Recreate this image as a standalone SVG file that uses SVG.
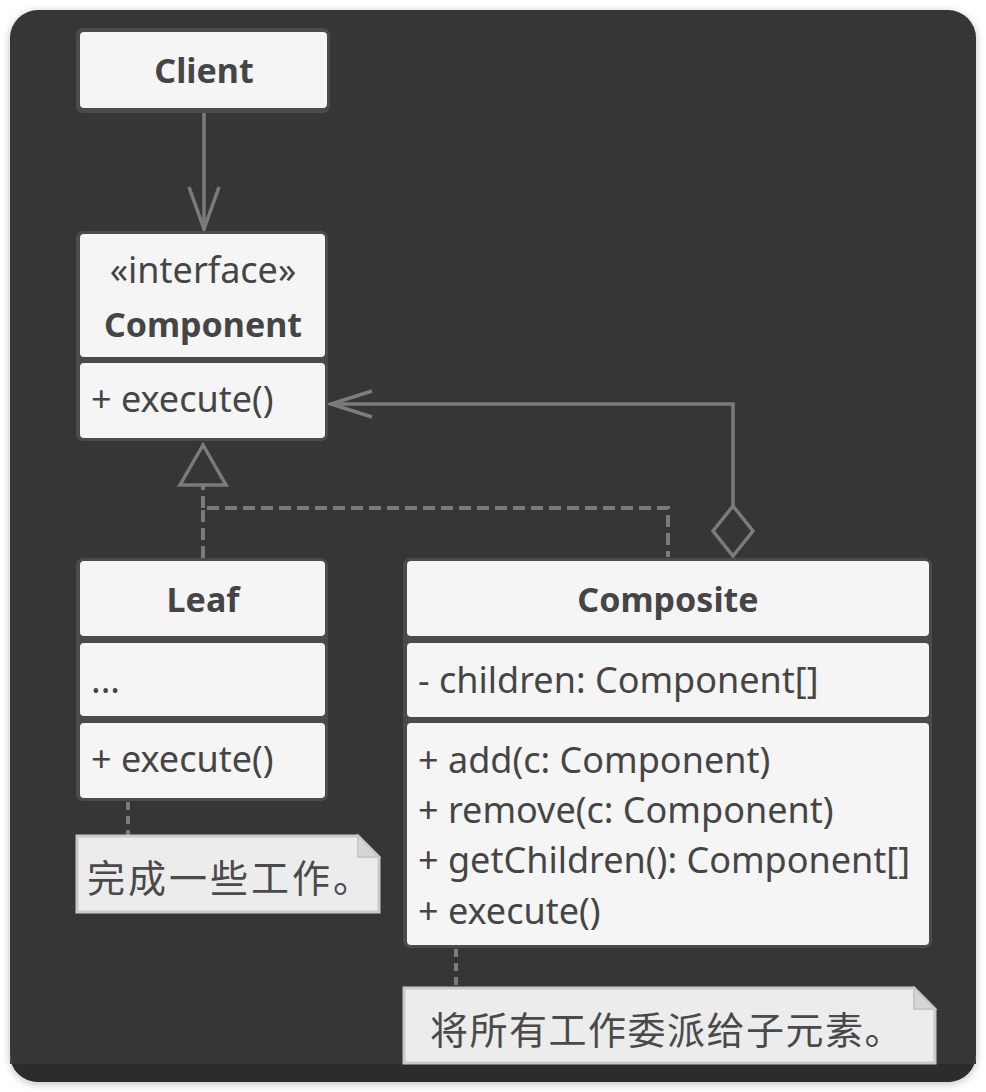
<svg xmlns="http://www.w3.org/2000/svg" width="986" height="1092" viewBox="0 0 986 1092">
<defs>
<style>
.frame{fill:#4b4b4b}
.cell{fill:#f5f5f5}
.t{font-family:"Noto Sans","Open Sans",sans-serif;font-size:36px;fill:#454545}
.b{font-weight:bold;font-size:34px}
.cjk{font-family:"Noto Sans CJK SC","Noto Sans",sans-serif;font-size:38px;fill:#4a4a4a;letter-spacing:3px}
.ln{fill:none;stroke:#7b7b7b;stroke-width:3.5}
.dash{fill:none;stroke:#7b7b7b;stroke-width:4;stroke-dasharray:12 6}
.dot{fill:none;stroke:#7b7b7b;stroke-width:4;stroke-dasharray:8 6}
.note{fill:#ececec;stroke:#c9c9c9;stroke-width:3}
.fold{fill:#d6d6d6;stroke:#c9c9c9;stroke-width:2}
</style>
<filter id="sh" x="-5%" y="-5%" width="110%" height="110%">
<feGaussianBlur stdDeviation="4"/>
</filter>
</defs>
<rect width="986" height="1092" fill="#ffffff"/>
<rect x="10" y="12" width="966" height="1072" rx="28" fill="#000" opacity="0.25" filter="url(#sh)"/>
<rect x="10" y="10" width="966" height="1072" rx="28" fill="#363636"/>
<path d="M10 1064 H976 V1054 a28 28 0 0 1 -28 28 H38 a28 28 0 0 1 -28 -28 Z" fill="#2c2c2c"/>

<g id="connectors">
<path class="ln" d="M204 113 V228"/>
<path class="ln" d="M189 187 L204 229 L219 187"/>
<path class="ln" d="M733 506 V404 H332"/>
<path class="ln" d="M372 391 L331 404 L372 417"/>
<polygon points="733,506 753,531 733,556 713,531" fill="#363636" stroke="#7b7b7b" stroke-width="3.5"/>
<path class="dash" d="M203 558 V508 H668 V557"/>
<path class="dash" d="M203 508 V486"/>
<polygon points="203,445 180,485 226,485" fill="#363636" stroke="#7b7b7b" stroke-width="3.5"/>
<path class="dot" d="M128 802 V836"/>
<path class="dot" d="M456 949 V988"/>
</g>

<g id="client">
<rect class="frame" x="76" y="28" width="254" height="85" rx="7"/>
<rect class="cell" x="80" y="32" width="247" height="76" rx="4"/>
<text class="t b" x="204" y="83" text-anchor="middle">Client</text>
</g>

<g id="component">
<rect class="frame" x="76" y="231" width="252" height="210" rx="7"/>
<rect class="cell" x="80" y="234" width="245" height="123" rx="4"/>
<rect class="cell" x="80" y="363" width="245" height="75" rx="4"/>
<text class="t" x="203" y="283" text-anchor="middle">«interface»</text>
<text class="t b" x="203" y="337" text-anchor="middle">Component</text>
<text class="t" x="91" y="412">+ execute()</text>
</g>

<g id="leaf">
<rect class="frame" x="76" y="558" width="252" height="243" rx="7"/>
<rect class="cell" x="80" y="561" width="245" height="75" rx="4"/>
<rect class="cell" x="80" y="643" width="245" height="73" rx="4"/>
<rect class="cell" x="80" y="723" width="245" height="75" rx="4"/>
<text class="t b" x="203" y="612" text-anchor="middle">Leaf</text>
<text class="t" x="91" y="693">...</text>
<text class="t" x="91" y="772">+ execute()</text>
</g>

<g id="composite">
<rect class="frame" x="403" y="558" width="529" height="390" rx="7"/>
<rect class="cell" x="407" y="561" width="522" height="75" rx="4"/>
<rect class="cell" x="407" y="643" width="522" height="74" rx="4"/>
<rect class="cell" x="407" y="723" width="522" height="222" rx="4"/>
<text class="t b" x="668" y="612" text-anchor="middle">Composite</text>
<text class="t" x="418" y="693">- children: Component[]</text>
<text class="t" x="418" y="773">+ add(c: Component)</text>
<text class="t" x="418" y="823">+ remove(c: Component)</text>
<text class="t" x="418" y="873">+ getChildren(): Component[]</text>
<text class="t" x="418" y="924">+ execute()</text>
</g>

<g id="note-leaf">
<path class="note" d="M77 836 H358 L379 857 V912 H77 Z"/>
<path class="fold" d="M358 836 V857 H379 Z"/>
<text class="cjk" x="87" y="892">完成一些工作。</text>
</g>

<g id="note-composite">
<path class="note" d="M404 988 H914 L935 1009 V1063 H404 Z"/>
<path class="fold" d="M914 988 V1009 H935 Z"/>
<text class="cjk" x="430" y="1044" style="letter-spacing:1.5px">将所有工作委派给子元素。</text>
</g>
</svg>
